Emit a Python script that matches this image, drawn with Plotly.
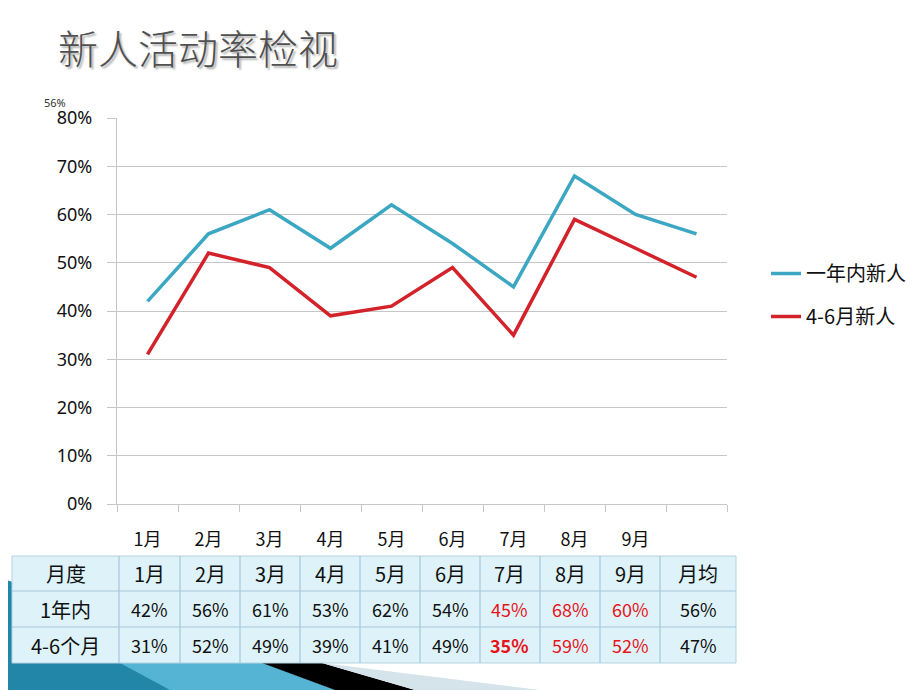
import plotly.graph_objects as go

W, H = 920, 690
OFF = 8  # page body offset of the plot div

months = ["1月", "2月", "3月", "4月", "5月", "6月", "7月", "8月", "9月", "月均"]
tick_text = ["1月", "2月", "3月", "4月", "5月", "6月", "7月", "8月", "9月"]
series_1yr = [42, 56, 61, 53, 62, 54, 45, 68, 60, 56]
series_46 = [31, 52, 49, 39, 41, 49, 35, 59, 53, 47]
name_1yr = "一年内新人"
name_46 = "4-6月新人"

table_header = ["月度", "1月", "2月", "3月", "4月", "5月", "6月", "7月", "8月", "9月", "月均"]
table_row1 = ["1年内", "42%", "56%", "61%", "53%", "62%", "54%", "45%", "68%", "60%", "56%"]
table_row2 = ["4-6个月", "31%", "52%", "49%", "39%", "41%", "49%", "35%", "59%", "52%", "47%"]
highlight_cols = ["7月", "8月", "9月"]
bold_cells = [("7月", 2)]

y_ticks = [0, 10, 20, 30, 40, 50, 60, 70, 80]
y_ticktext = [f"{v}%" for v in y_ticks]

BLUE = "#3BA7C2"
RED = "#D3222A"
GRID = "#C6C6C6"
CJK = "Noto Sans CJK SC"

# table geometry (pixels)
col_widths = [107, 61, 60, 60, 60, 60, 60, 60, 60, 60, 76]
row_heights = [35, 36, 36]
table_left, table_top = 12, 556


def px(x):
    return (x - OFF) / W


def py(y):
    return 1 - (y - OFF) / H


idx = list(range(len(months)))

fig = go.Figure()

fig.add_trace(go.Scatter(x=idx, y=series_1yr, mode="lines", name=name_1yr,
                         customdata=months, hovertemplate="%{customdata}: %{y}%",
                         line=dict(color=BLUE, width=3.5), legendgroup="a"))
fig.add_trace(go.Scatter(x=idx, y=series_46, mode="lines", name=name_46,
                         customdata=months, hovertemplate="%{customdata}: %{y}%",
                         line=dict(color=RED, width=3.5), legendgroup="b"))

# decorative bottom shapes (theme artwork)
shapes = [
    dict(type="path", xref="paper", yref="paper", layer="below",
         path=f"M {px(0)},{py(578)} L {px(262)},{py(663)} L {px(335)},{py(690)} L {px(0)},{py(690)} Z",
         fillcolor="#2286A8", line=dict(width=0)),
    dict(type="path", xref="paper", yref="paper", layer="below",
         path=f"M {px(120)},{py(663)} L {px(262)},{py(663)} L {px(335)},{py(690)} L {px(170)},{py(690)} Z",
         fillcolor="#55B4D4", line=dict(width=0)),
    dict(type="path", xref="paper", yref="paper", layer="below",
         path=f"M {px(262)},{py(663)} L {px(322)},{py(663)} L {px(415)},{py(690)} L {px(335)},{py(690)} Z",
         fillcolor="#000000", line=dict(width=0)),
    dict(type="path", xref="paper", yref="paper", layer="below",
         path=f"M {px(322)},{py(663)} L {px(540)},{py(690)} L {px(415)},{py(690)} Z",
         fillcolor="#D5E3EA", line=dict(width=0)),
]

annotations = [
    dict(text="新人活动率检视", x=px(56), y=py(47), xref="paper", yref="paper",
         xanchor="left", yanchor="middle", showarrow=False,
         font=dict(family=CJK, size=40, weight=300, color="#505050",
                   shadow="2px 2px 2px #b0b0b0")),
    dict(text="56%", x=px(42), y=py(102), xref="paper", yref="paper",
         xanchor="left", yanchor="middle", showarrow=False,
         font=dict(family="Noto Sans", size=11, color="#333333")),
]

# table built from shapes + text
rows = [table_header, table_row1, table_row2]
x_edges = [table_left]
for w in col_widths:
    x_edges.append(x_edges[-1] + w)
y_edges = [table_top]
for h in row_heights:
    y_edges.append(y_edges[-1] + h)

shapes.append(dict(type="rect", xref="paper", yref="paper", layer="above",
                   x0=px(x_edges[0]), x1=px(x_edges[-1]), y0=py(y_edges[-1]), y1=py(y_edges[0]),
                   fillcolor="#DDF3F9", line=dict(color="#B5D2E2", width=1)))
for xe in x_edges[1:-1]:
    shapes.append(dict(type="line", xref="paper", yref="paper", layer="above",
                       x0=px(xe), x1=px(xe), y0=py(y_edges[-1]), y1=py(y_edges[0]),
                       line=dict(color="#A7C7DA", width=1.2)))
for ye in y_edges[1:-1]:
    shapes.append(dict(type="line", xref="paper", yref="paper", layer="above",
                       x0=px(x_edges[0]), x1=px(x_edges[-1]), y0=py(ye), y1=py(ye),
                       line=dict(color="#A7C7DA", width=1.2)))

for r, row in enumerate(rows):
    yc = (y_edges[r] + y_edges[r + 1]) / 2
    for c, val in enumerate(row):
        xc = (x_edges[c] + x_edges[c + 1]) / 2
        col_name = table_header[c]
        color = "#E8141B" if (r > 0 and col_name in highlight_cols) else "#111111"
        is_cjk_label = (r == 0) or (c == 0)
        size = 20 if is_cjk_label else 18
        weight = "bold" if (col_name, r) in bold_cells else "normal"
        annotations.append(dict(text=val, x=px(xc), y=py(yc), xref="paper", yref="paper",
                                xanchor="center", yanchor="middle", showarrow=False,
                                font=dict(family=CJK, size=size, color=color, weight=weight)))

fig.update_layout(
    width=W, height=H,
    margin=dict(l=0, r=0, t=0, b=0, pad=0, autoexpand=False),
    paper_bgcolor="white", plot_bgcolor="white",
    shapes=shapes, annotations=annotations,
    showlegend=True,
    legend=dict(x=px(766), y=py(254), xanchor="left", yanchor="top",
                font=dict(family=CJK, size=20, color="#111111"),
                tracegroupgap=14, itemwidth=30, bgcolor="rgba(0,0,0,0)"),
    xaxis=dict(domain=[px(117), px(727)], range=[-0.5, len(months) - 0.5],
               tickmode="array", tickvals=idx[:len(tick_text)], ticktext=tick_text,
               ticks="", showline=True, linecolor=GRID, linewidth=1.3,
               minor=dict(tickmode="array",
                          tickvals=[i - 0.5 for i in range(len(months) + 1)],
                          ticks="outside", ticklen=7, tickcolor=GRID, tickwidth=1.3,
                          showgrid=False),
               showgrid=False, zeroline=False,
               tickfont=dict(family=CJK, size=18, color="#111111"),
               ticklabelstandoff=19, fixedrange=True),
    yaxis=dict(domain=[py(504), py(118)], range=[0, 80],
               tickvals=y_ticks, ticktext=y_ticktext,
               ticks="outside", ticklen=9, tickcolor=GRID, tickwidth=1.3,
               showline=True, linecolor=GRID, linewidth=1.3,
               showgrid=True, gridcolor=GRID, gridwidth=1.3, zeroline=False,
               tickfont=dict(family="Noto Sans", size=18, color="#111111"),
               ticklabelstandoff=11, fixedrange=True),
)

fig.write_html("out.html")
